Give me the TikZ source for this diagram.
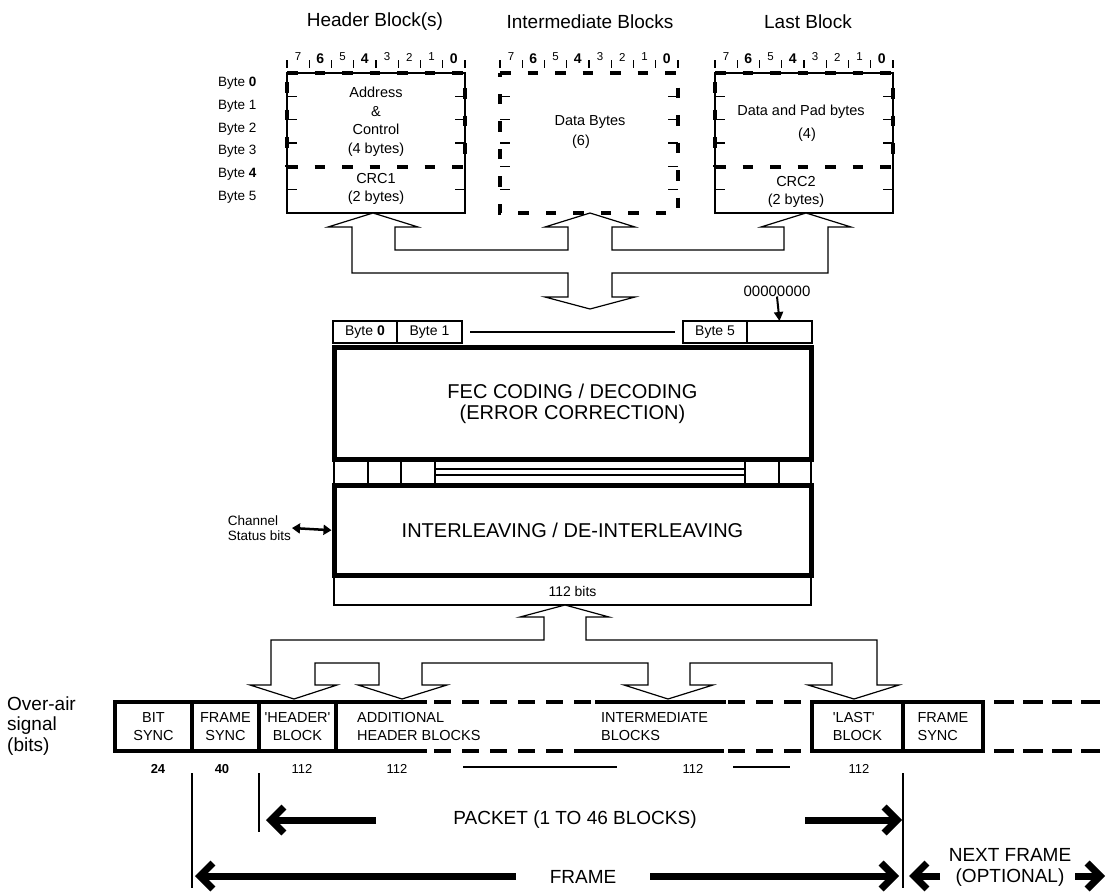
\documentclass[tikz,border=0pt]{standalone}
\usepackage{fontspec}
\setmainfont{Liberation Sans}
\usetikzlibrary{arrows.meta,calc,positioning}

\begin{document}
\begin{tikzpicture}[x=1pt, y=-1pt,
    hair/.style={line width=1.2pt},
    dsh/.style={line width=4.5pt, dash pattern=on 10.5pt off 17pt},
    blk/.style={minimum width=178pt, minimum height=140pt, inner sep=0pt, outer sep=0pt},
    title/.style={font=\fontsize{19}{22}\selectfont},
    blktxt/.style={font=\fontsize{14.5}{18.5}\selectfont, align=center, inner sep=0pt},
    bytelbl/.style={font=\fontsize{13.5}{15}\selectfont, anchor=west, inner sep=0pt},
    bitsm/.style={font=\fontsize{11.5}{13}\selectfont, inner sep=0pt},
    bitbg/.style={font=\bfseries\fontsize{14}{16}\selectfont, inner sep=0pt},
    bcell/.style={draw, hair, minimum height=22pt, inner sep=0pt, outer sep=0pt, font=\fontsize{14}{16}\selectfont},
    mainbox/.style={draw, line width=5pt, minimum width=477pt, align=center, font=\fontsize{20}{21}\selectfont},
    rowcell/.style={draw, line width=4.5pt, minimum height=49pt, inner sep=0pt, outer sep=0pt, align=center, font=\fontsize{14.5}{18}\selectfont},
    rowtxt/.style={font=\fontsize{14.5}{18}\selectfont, align=left, anchor=west, inner sep=0pt},
    rowln/.style={line width=4.5pt},
    rowdsh/.style={line width=4.5pt, dash pattern=on 17pt off 11pt},
    numlbl/.style={font=\fontsize{13}{15}\selectfont, inner sep=0pt},
    biglbl/.style={font=\fontsize{19}{21}\selectfont, align=center, inner sep=0pt},
    bigarr/.style={line width=7pt, -{Straight Barb[length=13pt,width=26pt]}}
]
\useasboundingbox (0,0) rectangle (1109,894);

% titles
\node[title] (thdr) at (375,22) {Header Block(s)};
\node[title] (timd) at (590,22) {Intermediate Blocks};
\node[title] (tlst) at (808,22) {Last Block};

% bit numbers
\foreach \bx/\nm in {287/h,500/i,715/l}{
  \foreach \k in {0,...,8}
    \draw[hair] (\bx+\k*22.25,60) -- (\bx+\k*22.25,68);
  \foreach \d/\s/\y [count=\k from 0] in {7/bitsm/57,6/bitbg/59,5/bitsm/57,4/bitbg/59,3/bitsm/57,2/bitsm/57,1/bitsm/57,0/bitbg/59}
    \node[\s] (bit\nm\d) at (\bx+11.125+\k*22.25,\y) {\d};
}

% byte labels
\foreach \i/\t in {0/\textbf{0},1/1,2/2,3/3,4/\textbf{4},5/5}
  \node[bytelbl] (byte\i) at (218,83.5+\i*22.7) {Byte \t};

% header block
\node[blk, draw, hair] (hdr) at (376,143) {};
\draw[dsh] (hdr.north west) -- (hdr.north east);
\draw[dsh] ($(hdr.south west)+(0,-46)$) -- ($(hdr.south east)+(0,-46)$);
\draw[dsh, dash phase=18.5pt] (hdr.north west) -- ($(hdr.south west)+(0,-46)$);
\draw[dsh, dash phase=12.5pt] (hdr.north east) -- ($(hdr.south east)+(0,-46)$);
\foreach \r in {1,2,3,5}{
  \draw[hair] ($(hdr.north west)+(0,\r*23.33)$) -- ++(10,0);
  \draw[hair] ($(hdr.north east)+(0,\r*23.33)$) -- ++(-10,0);
}
\node[blktxt] (addr) at (376,122) {Address\\\&\\Control\\(4 bytes)};
\node[blktxt] (crc1) at (376,189) {CRC1\\(2 bytes)};

% intermediate block
\node[blk] (imd) at (589,143) {};
\draw[dsh] (imd.north west) -- (imd.north east) -- (imd.south east) -- (imd.south west) -- cycle;
\foreach \r in {1,...,5}{
  \draw[hair] ($(imd.north west)+(0,\r*23.33)$) -- ++(10,0);
  \draw[hair] ($(imd.north east)+(0,\r*23.33)$) -- ++(-10,0);
}
\node[blktxt] (dbytes) at (590,122) {Data Bytes};
\node[blktxt] (dsix) at (581,142) {(6)};

% last block
\node[blk, draw, hair] (lst) at (804,143) {};
\draw[dsh] (lst.north west) -- (lst.north east);
\draw[dsh] ($(lst.south west)+(0,-46)$) -- ($(lst.south east)+(0,-46)$);
\draw[dsh, dash phase=18.5pt] (lst.north west) -- ($(lst.south west)+(0,-46)$);
\draw[dsh, dash phase=12.5pt] (lst.north east) -- ($(lst.south east)+(0,-46)$);
\foreach \r in {1,2,3,5}{
  \draw[hair] ($(lst.north west)+(0,\r*23.33)$) -- ++(10,0);
  \draw[hair] ($(lst.north east)+(0,\r*23.33)$) -- ++(-10,0);
}
\node[blktxt] (dpad) at (801,112) {Data and Pad bytes};
\node[blktxt] (dfour) at (807,135) {(4)};
\node[blktxt] (crc2) at (796,192) {CRC2\\(2 bytes)};

% block <-> byte stream arrows
\draw[hair, fill=white] (352,227) -- (328,227) -- (373,213) -- (418,227) -- (395,227) -- (395,250)
  -- (568,250) -- (568,227) -- (545,227) -- (590,213) -- (635,227) -- (612,227) -- (612,250)
  -- (784,250) -- (784,227) -- (761,227) -- (806,213) -- (851,227) -- (828,227) -- (828,273)
  -- (612,273) -- (612,297) -- (635,297) -- (590,309) -- (545,297) -- (568,297) -- (568,273)
  -- (352,273) -- cycle;

% byte stream
\node[bcell, minimum width=64pt] (b0) at (365,332) {Byte \textbf{0}};
\node[bcell, minimum width=65pt, right=0pt of b0] (b1) {Byte 1};
\node[bcell, minimum width=64pt] (b5) at (715,332) {Byte 5};
\node[bcell, minimum width=65pt, right=0pt of b5] (bz) {};
\draw[hair] ([xshift=8pt]b1.east) -- ([xshift=-8pt]b5.west);
\node[font=\fontsize{15}{17}\selectfont, inner sep=0pt] (zeros) at (777,291) {00000000};
\draw[line width=2pt, -{Triangle[length=9pt,width=9pt]}] (zeros.south) -- (bz.north);

% strip between coder and interleaver
\foreach \sx in {334,368,401,435,745,779,811}
  \draw[hair] (\sx,461) -- (\sx,485);
\draw[hair] (435,469) -- (745,469);
\draw[hair] (435,475) -- (745,475);

\node[mainbox, minimum height=112pt] (fec) at (572.5,403.5) {FEC CODING / DECODING\\(ERROR CORRECTION)};
\node[draw, hair, minimum width=477pt, minimum height=28pt, font=\fontsize{14}{16}\selectfont] (b112) at (572.5,591) {112 bits};
\node[mainbox, minimum height=89.5pt] (ilv) at (572.5,530.25) {INTERLEAVING / DE-INTERLEAVING};

\node[font=\fontsize{13.5}{15.5}\selectfont, align=left, anchor=east, inner sep=1pt] (chst) at (292,528) {Channel\\Status bits};
\draw[line width=2.5pt, {Triangle[length=8pt,width=10pt]}-{Triangle[length=8pt,width=10pt]}] (chst.east) -- (ilv.west);

% over-air to 112 bits arrows
\draw[hair, fill=white] (544,617) -- (520,617) -- (565,605) -- (609,617) -- (586,617) -- (586,640)
  -- (877,640) -- (877,685) -- (899,685) -- (854,699) -- (808,685) -- (832,685) -- (832,663)
  -- (690,663) -- (690,685) -- (713,685) -- (668,699) -- (624,685) -- (648,685) -- (648,663)
  -- (422,663) -- (422,685) -- (447,685) -- (402,699) -- (358,685) -- (379,685) -- (379,663)
  -- (315,663) -- (315,685) -- (337,685) -- (294,699) -- (250,685) -- (271,685) -- (271,640)
  -- (544,640) -- cycle;

% over-air signal
\node[font=\fontsize{19}{20.5}\selectfont, align=left, anchor=west, inner sep=0pt] (ovair) at (7,726) {Over-air\\signal\\(bits)};
\node[rowcell, minimum width=77pt] (bsync) at (153.5,726.5) {BIT\\SYNC};
\node[rowcell, minimum width=67pt, right=0pt of bsync] (fsync) {FRAME\\SYNC};
\node[rowcell, minimum width=77pt, right=0pt of fsync] (hblk) {\textquotesingle HEADER\textquotesingle\\BLOCK};
\draw[rowln] (hblk.north east) -- (427,702);
\draw[rowln] (hblk.south east) -- (427,751);
\draw[rowdsh] (434,702) -- (595,702);
\draw[rowdsh] (434,751) -- (587,751);
\draw[rowln] (595,702) -- (726,702);
\draw[rowln] (587,751) -- (724,751);
\draw[rowdsh] (728,702) -- (812,702);
\draw[rowdsh] (728,751) -- (812,751);
\node[rowtxt] (addl) at (357,726.5) {ADDITIONAL\\HEADER BLOCKS};
\node[rowtxt] (imdb) at (601,726.5) {INTERMEDIATE\\BLOCKS};
\node[rowcell, minimum width=91pt, align=left] (lblk) at (857.5,726.5) {\textquotesingle LAST\textquotesingle\\BLOCK};
\node[rowcell, minimum width=80pt, align=left, right=0pt of lblk] (fsync2) {FRAME\\SYNC};
\draw[rowln, dash pattern=on 20pt off 9pt] (994,702) -- (1100,702);
\draw[rowln, dash pattern=on 20pt off 9pt] (994,751) -- (1100,751);

% bit counts
\node[numlbl] (n24) at (158,769) {\textbf{24}};
\node[numlbl] (n40) at (222,769) {\textbf{40}};
\node[numlbl] (n112a) at (302,769) {112};
\node[numlbl] (n112b) at (397,769) {112};
\node[numlbl] (n112c) at (693,769) {112};
\node[numlbl] (n112d) at (859,769) {112};
\draw[hair] (463,767) -- (617,767);
\draw[hair] (733,767) -- (790,767);

% extent markers
\draw[hair] ([yshift=-22pt]fsync.south west) -- ++(0,115);
\draw[hair] ([yshift=-22pt]hblk.south west) -- ++(0,59);
\draw[hair] ([yshift=-22pt]lblk.south east) -- ++(0,115);

\coordinate (pktL) at (266,820);
\coordinate (pktLs) at (376,820);
\coordinate (pktRs) at (805,820);
\coordinate (pktR) at (902,820);
\node[biglbl] (pkt) at (575,820) {PACKET (1 TO 46 BLOCKS)};
\draw[bigarr] (pktLs) -- (pktL);
\draw[bigarr] (pktRs) -- (pktR);

\coordinate (frL) at (195,876);
\coordinate (frLs) at (516,876);
\coordinate (frRs) at (650,876);
\coordinate (frR) at (899,876);
\node[biglbl] (frm) at (583,877) {FRAME};
\draw[bigarr] (frLs) -- (frL);
\draw[bigarr] (frRs) -- (frR);

\coordinate (nxL) at (909,876);
\coordinate (nxLs) at (940,876);
\coordinate (nxRs) at (1075,876);
\coordinate (nxR) at (1105,876);
\node[biglbl] (nxt) at (1010,867) {NEXT FRAME\\(OPTIONAL)};
\draw[bigarr] (nxLs) -- (nxL);
\draw[bigarr] (nxRs) -- (nxR);
\end{tikzpicture}
\end{document}
